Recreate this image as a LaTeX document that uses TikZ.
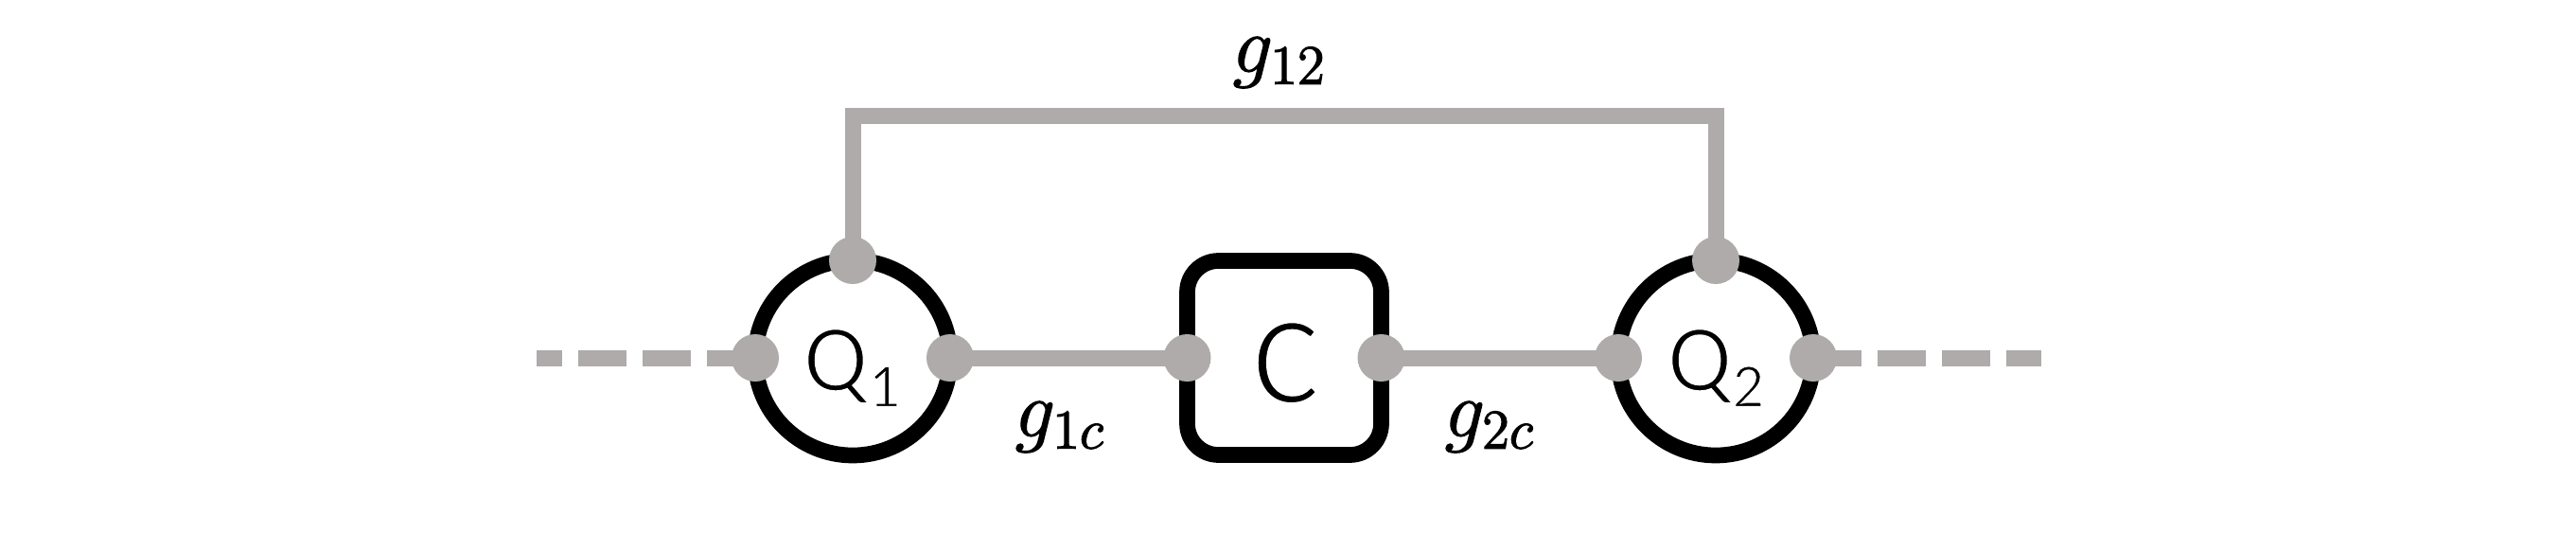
\RequirePackage{fix-cm}
\documentclass[tikz,border=0pt]{standalone}
\usepackage{fontspec}
\newfontfamily\carl{Carlito}
\definecolor{lgray}{RGB}{174,171,170}
% thin the glyphs a little: fill black, then stroke the outline in white
\newcommand\thinglyphs[2]{\special{pdf:literal direct 1 1 1 RG 2 Tr #1 w}#2\special{pdf:literal direct 0 0 0 RG 0 Tr}}
% thicken the glyphs a little: fill and stroke in black
\newcommand\thickglyphs[2]{\special{pdf:literal direct 0 0 0 RG 2 Tr #1 w}#2\special{pdf:literal direct 0 0 0 RG 0 Tr}}
\begin{document}
\begin{tikzpicture}[x=1cm,y=1cm,
  wire/.style={draw=lgray, line width=0.17cm},
  dwire/.style={wire, dash pattern=on 0.51cm off 0.17cm},
  dotpt/.style={circle, fill=lgray, minimum size=0.5cm, inner sep=0pt, outer sep=0pt},
  qubit/.style={circle, draw=black, line width=0.167cm, minimum size=2.06cm, inner sep=0pt, outer sep=0pt},
  cbox/.style={rectangle, draw=black, line width=0.167cm, rounded corners=0.33cm, minimum width=2.05cm, minimum height=2.05cm, inner sep=0pt, outer sep=0pt},
  mlabel/.style={anchor=base, inner sep=0pt, font=\fontsize{24}{28}\selectfont},
  qtext/.style={anchor=base west, inner sep=0pt}
]
\useasboundingbox (0,0) rectangle (27.22,5.62);
% main elements
\node[qubit] (q1) at (9.01,1.84) {};
\node[cbox]  (c)  at (13.57,1.84) {};
\node[qubit] (q2) at (18.13,1.84) {};
% port coordinates
\coordinate (q1w) at (q1.west);
\coordinate (q1e) at (q1.east);
\coordinate (q1n) at (q1.north);
\coordinate (cw) at (c.west);
\coordinate (ce) at (c.east);
\coordinate (q2w) at (q2.west);
\coordinate (q2e) at (q2.east);
\coordinate (q2n) at (q2.north);
\coordinate (lend) at (5.67,1.84);
\coordinate (rend) at (21.57,1.84);
\coordinate (top) at (13.57,4.40);
% connectors
\draw[dwire] (q1w) -- (lend);
\draw[dwire] (q2e) -- (rend);
\draw[wire] (q1e) -- (cw);
\draw[wire] (ce) -- (q2w);
\draw[wire] (q1n) -- (q1n |- top) -- (q2n |- top) -- (q2n);
% dots
\foreach \p in {q1w,q1e,q1n,cw,ce,q2w,q2e,q2n}
  \node[dotpt] (d\p) at (\p) {};
% texts
\node[qtext] (q1t) at (8.48,1.49) {\carl\fontsize{29}{31}\selectfont\thinglyphs{0.8}{Q}\fontsize{19}{21}\selectfont\raisebox{-4.8pt}{\thinglyphs{0.5}{1}}};
\node[qtext] (q2t) at (17.61,1.49) {\carl\fontsize{29}{31}\selectfont\thinglyphs{0.8}{Q}\fontsize{19}{21}\selectfont\raisebox{-4.8pt}{\thinglyphs{0.5}{2}}};
\node[anchor=base, inner sep=0pt] (ct) at (13.59,1.36) {\carl\fontsize{38}{40}\selectfont\thinglyphs{1.1}{C}};
\node[mlabel] (g12) at (13.52,4.86) {\thickglyphs{0.35}{$g_{12}$}};
\node[mlabel] (g1c) at (11.20,1.01) {\thickglyphs{0.35}{$g_{1c}$}};
\node[mlabel] (g2c) at (15.74,1.01) {\thickglyphs{0.35}{$g_{2c}$}};
\end{tikzpicture}
\end{document}
